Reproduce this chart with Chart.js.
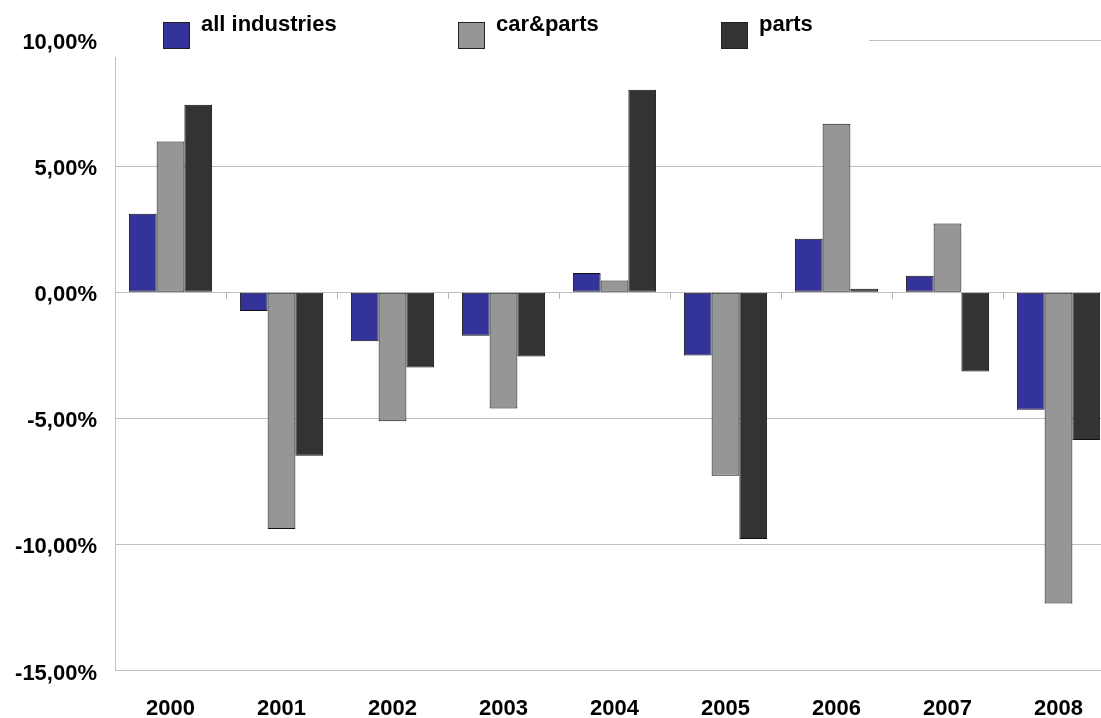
<!DOCTYPE html>
<html>
<head>
<meta charset="utf-8">
<script src="https://cdn.jsdelivr.net/npm/chart.js@4/dist/chart.umd.min.js"></script>
<style>
  html, body { margin: 0; padding: 0; background: #fff; overflow: hidden; }
  #wrap { width: 1114px; height: 718px; }
</style>
</head>
<body>
<div id="wrap"><canvas id="growthChart" width="1114" height="718"></canvas></div>
<script>
const years = ['2000', '2001', '2002', '2003', '2004', '2005', '2006', '2007', '2008'];
const allIndustries = [3.11, -0.75, -1.94, -1.73, 0.76, -2.51, 2.12, 0.65, -4.66];
const carParts = [5.98, -9.39, -5.12, -4.61, 0.46, -7.28, 6.68, 2.72, -12.34];
const parts = [7.43, -6.48, -2.99, -2.55, 8.03, -9.79, 0.14, -3.14, -5.86];

const FONT = 'Arial, "Liberation Sans", sans-serif';
const gridGray = '#c0c0c0';

// white legend area that hides the top of the plot, like the original
const legendCover = {
    id: 'legendCover',
    beforeDatasetsDraw(chart) {
        const ctx = chart.ctx;
        const left = chart.chartArea.left - 1;
        ctx.save();
        ctx.fillStyle = '#fff';
        ctx.fillRect(left, 0, 869 - left, 57);
        ctx.restore();
    }
};

const boxLegend = {
    id: 'boxLegend',
    afterDraw(chart) {
        const ctx = chart.ctx;
        const xs = [163, 458, 721];
        ctx.save();
        ctx.font = 'bold 22px ' + FONT;
        ctx.textBaseline = 'alphabetic';
        chart.data.datasets.forEach((ds, i) => {
            ctx.fillStyle = ds.backgroundColor;
            ctx.fillRect(xs[i] + 0.5, 22.5, 26, 26);
            ctx.strokeStyle = '#222';
            ctx.lineWidth = 1;
            ctx.strokeRect(xs[i] + 0.5, 22.5, 26, 26);
            ctx.fillStyle = '#000';
            ctx.fillText(ds.label, xs[i] + 38, 31);
        });
        ctx.restore();
    }
};

const ctx = document.getElementById('growthChart').getContext('2d');

new Chart(ctx, {
    type: 'bar',
    data: {
        labels: years,
        datasets: [
            { label: 'all industries', data: allIndustries, backgroundColor: '#333399', xAxisID: 'x' },
            { label: 'car&parts', data: carParts, backgroundColor: '#969696', xAxisID: 'x' },
            { label: 'parts', data: parts, backgroundColor: '#333333', xAxisID: 'x' }
        ]
    },
    options: {
        responsive: false,
        animation: false,
        layout: { padding: { top: 40, left: 0, right: 0, bottom: 0 } },
        datasets: {
            bar: {
                categoryPercentage: 0.75,
                barPercentage: 1.0,
                borderColor: '#111',
                borderWidth: 1,
                borderSkipped: false
            }
        },
        plugins: {
            legend: { display: false },
            tooltip: { enabled: false }
        },
        scales: {
            x: {
                type: 'category',
                position: 'bottom',
                grid: { display: false },
                border: { display: false },
                ticks: {
                    color: '#000',
                    padding: 17,
                    font: { family: FONT, size: 22, weight: 'bold' }
                },
                afterFit(scale) { scale.height = 47.5; }
            },
            x2: {
                type: 'category',
                axis: 'x',
                position: { y: 0 },
                offset: true,
                grid: {
                    offset: true,
                    drawOnChartArea: false,
                    drawTicks: true,
                    tickLength: 6,
                    color: '#b4b4b4'
                },
                border: { display: true, color: gridGray },
                ticks: { display: false }
            },
            y: {
                min: -15,
                max: 10,
                grid: { color: gridGray, drawTicks: false },
                border: { display: true, color: gridGray },
                ticks: {
                    stepSize: 5,
                    color: '#000',
                    padding: 18,
                    labelOffset: 3,
                    font: { family: FONT, size: 22, weight: 'bold' },
                    callback: v => v.toFixed(2).replace('.', ',') + '%'
                },
                afterFit(scale) { scale.width = 115; }
            }
        }
    },
    plugins: [legendCover, boxLegend]
});
</script>
</body>
</html>
